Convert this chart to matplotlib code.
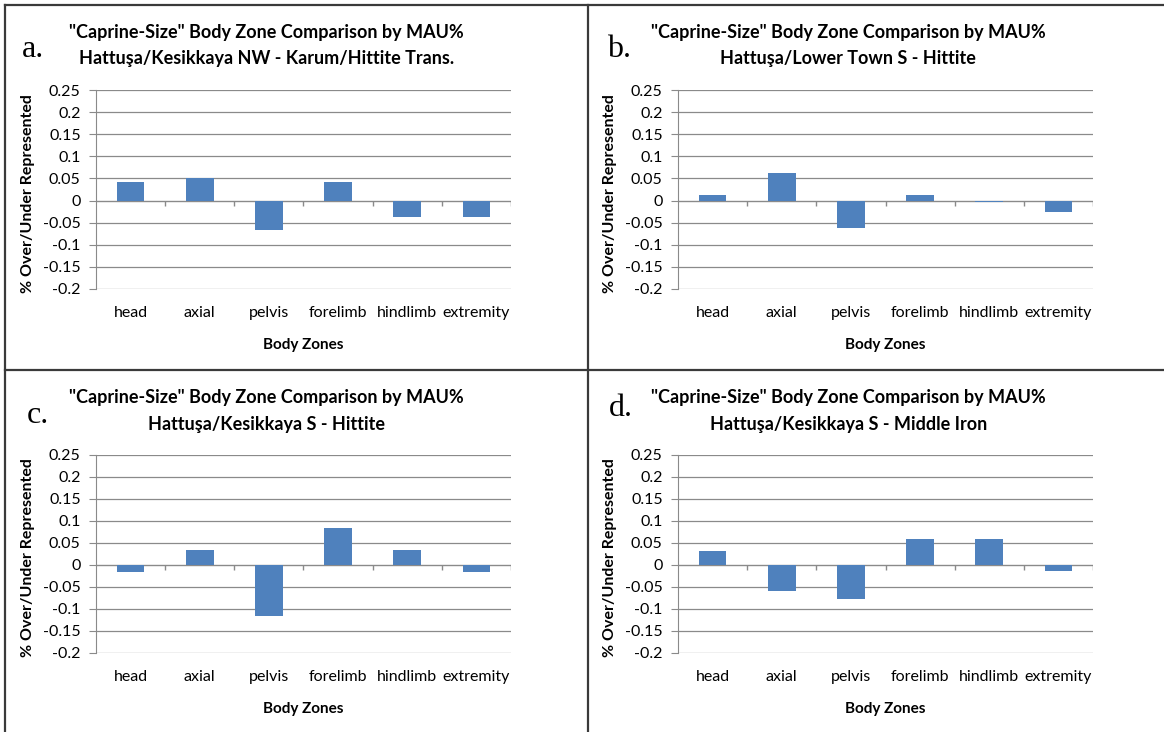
import numpy as np
import matplotlib.pyplot as plt
from matplotlib.lines import Line2D

zones = ['head', 'axial', 'pelvis', 'forelimb', 'hindlimb', 'extremity']

kesikkaya_nw_karum = [0.042, 0.050, -0.066, 0.042, -0.037, -0.037]
lower_town_s_hittite = [0.013, 0.063, -0.063, 0.013, -0.004, -0.026]
kesikkaya_s_hittite = [-0.016, 0.035, -0.115, 0.084, 0.035, -0.016]
kesikkaya_s_middle_iron = [0.031, -0.059, -0.077, 0.058, 0.058, -0.013]

main_title = '"Caprine-Size" Body Zone Comparison by MAU%'
subtitles = ['Hattuşa/Kesikkaya NW - Karum/Hittite Trans.',
             'Hattuşa/Lower Town S - Hittite',
             'Hattuşa/Kesikkaya S - Hittite',
             'Hattuşa/Kesikkaya S - Middle Iron']
letters = ['a.', 'b.', 'c.', 'd.']
series = [kesikkaya_nw_karum, lower_town_s_hittite,
          kesikkaya_s_hittite, kesikkaya_s_middle_iron]
yticks = np.round(np.arange(-0.2, 0.2501, 0.05), 2)

W, H = 1164, 732
fig = plt.figure(figsize=(W / 100, H / 100), dpi=100)
plt.rcParams['font.family'] = ['Lato', 'DejaVu Sans']

# axes boxes in pixels: left, top, right, bottom
boxes = [(96, 90, 511, 289), (678, 90, 1093, 289),
         (96, 455, 511, 653), (678, 455, 1093, 653)]
letter_pos = [(-0.178, 1.165), (-0.171, 1.165), (-0.166, 1.162), (-0.166, 1.197)]

bar_color = '#4F81BD'
grid_color = '#8a8a8a'
x = np.arange(len(zones))

for i, (l, t, r, b) in enumerate(boxes):
    ax = fig.add_axes([l / W, 1 - b / H, (r - l) / W, (b - t) / H])
    ax.set_xlim(-0.5, len(zones) - 0.5)
    ax.set_ylim(-0.2, 0.25)
    ax.set_yticks(yticks)
    ax.set_yticklabels(['0' if v == 0 else ('%g' % v) for v in yticks], fontsize=11.5)
    for v in yticks:
        if v != 0:
            ax.axhline(v, color=grid_color, lw=0.9, zorder=0)
    ax.axhline(0, color=grid_color, lw=1.0, zorder=1)
    ax.bar(x, series[i], width=0.4, color=bar_color, zorder=2)
    # category separator ticks hanging from the zero line
    bounds = np.arange(len(zones) + 1) - 0.5
    ax.vlines(bounds[1:], 0, -0.012, color=grid_color, lw=1.0, zorder=3)
    ax.set_xticks(x)
    ax.set_xticklabels(zones, fontsize=11.5)
    ax.tick_params(axis='x', length=0, pad=12)
    ax.tick_params(axis='y', length=5, color=grid_color, direction='out', pad=6)
    for s in ['top', 'right', 'bottom']:
        ax.spines[s].set_visible(False)
    ax.spines['left'].set_color(grid_color)
    ax.set_ylabel('% Over/Under Represented', fontsize=11.5, fontweight='bold')
    ax.yaxis.set_label_coords(-0.147, 0.48)
    ax.set_xlabel('Body Zones', fontsize=11, fontweight='bold')
    ax.xaxis.set_label_coords(0.5, -0.246)
    ax.text(0.41, 1.291, main_title, transform=ax.transAxes, ha='center',
            va='center', fontsize=13, fontweight='bold')
    ax.text(0.41, 1.156, subtitles[i], transform=ax.transAxes, ha='center',
            va='center', fontsize=13, fontweight='bold')
    ax.text(letter_pos[i][0], letter_pos[i][1], letters[i], transform=ax.transAxes,
            ha='left', va='baseline', fontsize=23, family='Liberation Serif')

# panel frame lines
frame = '#3a3a3a'
lw = 1.6
fig.add_artist(Line2D([5 / W, 1], [1 - 5 / H, 1 - 5 / H], color=frame, lw=lw))
fig.add_artist(Line2D([5 / W, 5 / W], [0, 1 - 5 / H], color=frame, lw=lw))
fig.add_artist(Line2D([5 / W, 1], [1 - 370 / H, 1 - 370 / H], color=frame, lw=lw))
fig.add_artist(Line2D([588 / W, 588 / W], [0, 1 - 5 / H], color=frame, lw=lw))

fig.savefig('out.png', dpi=100, facecolor='white')
